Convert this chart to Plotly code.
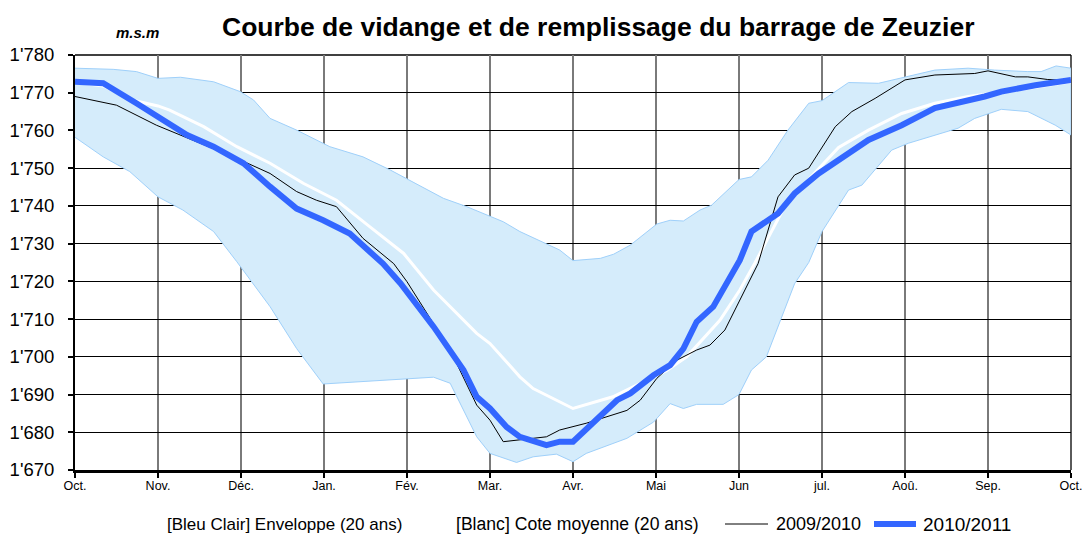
import plotly.graph_objects as go

# ---------------- data (x in months from 1 Oct) ----------------
month_labels = ["Oct.", "Nov.", "Déc.", "Jan.", "Fév.", "Mar.", "Avr.",
                "Mai", "Jun", "jul.", "Aoû.", "Sep.", "Oct."]
month_pos = list(range(13))

env_upper_x = [0, 0.46, 0.74, 1.0, 1.27, 1.67, 1.99, 2.15, 2.35, 2.67, 3.07, 3.47, 3.8,
               4.05, 4.44, 4.72, 5.16, 5.36, 5.68, 5.84, 6.0, 6.33, 6.49, 6.69, 7.01,
               7.17, 7.33, 7.53, 7.67, 8.0, 8.15, 8.35, 8.59, 8.84, 9.0, 9.32, 9.68,
               10.04, 10.36, 10.76, 11.08, 11.48, 11.64, 11.82, 12.0]
env_upper_y = [1776.5, 1776.2, 1775.6, 1773.8, 1774.1, 1772.9, 1770.3, 1768.1, 1763.2,
               1760.1, 1755.7, 1753.0, 1749.5, 1746.5, 1742.0, 1739.8, 1735.8, 1733.2,
               1730.0, 1728.3, 1725.5, 1726.1, 1727.2, 1729.6, 1735.2, 1736.2, 1736.0,
               1738.9, 1740.2, 1747.0, 1747.7, 1752.1, 1760.1, 1767.2, 1767.9, 1772.7,
               1772.5, 1774.4, 1776.0, 1776.5, 1776.0, 1775.6, 1775.6, 1777.1, 1776.5]

env_lower_x = [0, 0.34, 0.66, 1.0, 1.3, 1.67, 1.95, 2.35, 2.67, 2.99, 4.32, 4.52, 4.84,
               5.0, 5.32, 5.52, 5.8, 6.0, 6.16, 6.65, 6.97, 7.17, 7.33, 7.49, 7.81, 8.0,
               8.15, 8.33, 8.51, 8.67, 8.84, 9.0, 9.32, 9.48, 9.84, 10.04, 10.64, 10.84,
               11.16, 11.48, 11.81, 12.0]
env_lower_y = [1758.2, 1753.0, 1749.1, 1742.4, 1738.9, 1733.2, 1725.2, 1713.3, 1702.2,
               1692.8, 1694.6, 1693.0, 1678.8, 1674.4, 1672.0, 1673.5, 1674.2, 1672.2,
               1674.4, 1678.4, 1682.7, 1687.6, 1686.3, 1687.4, 1687.4, 1690.0, 1696.5,
               1700.0, 1710.2, 1719.4, 1725.0, 1733.2, 1744.2, 1745.5, 1754.8, 1756.6,
               1760.6, 1763.2, 1765.6, 1765.0, 1761.4, 1758.8]

mean_x = [0, 0.34, 0.7, 1.0, 1.14, 1.55, 1.95, 2.35, 2.75, 3.15, 3.55, 3.96, 4.32, 4.84,
          5.0, 5.36, 5.52, 6.0, 6.48, 7.13, 7.37, 7.77, 8.01, 8.19, 8.55, 8.87, 9.2,
          9.56, 9.96, 10.36, 10.76, 11.36, 12.0]
mean_y = [1772.8, 1771.8, 1768.0, 1766.5, 1765.4, 1761.0, 1755.7, 1751.3, 1746.0, 1741.5,
          1734.5, 1727.4, 1717.7, 1706.2, 1703.5, 1694.7, 1691.6, 1686.3, 1689.4, 1696.4,
          1700.0, 1709.7, 1717.7, 1724.8, 1739.8, 1747.7, 1755.5, 1760.1, 1764.5, 1767.2,
          1769.0, 1770.7, 1772.9]

y0910_x = [0, 0.5, 0.98, 1.27, 1.95, 2.35, 2.67, 2.91, 3.15, 3.47, 3.84, 4.0, 4.32, 4.52,
           4.84, 5.0, 5.16, 5.68, 5.84, 6.16, 6.65, 6.81, 7.01, 7.25, 7.49, 7.65, 7.83,
           8.01, 8.23, 8.47, 8.67, 8.84, 9.16, 9.36, 9.64, 10.0, 10.36, 10.84, 11.0,
           11.33, 11.48, 11.72, 12.0]
y0910_y = [1769.0, 1766.7, 1761.4, 1758.8, 1752.6, 1748.6, 1743.8, 1741.5, 1739.8, 1731.4,
           1724.7, 1719.9, 1708.8, 1701.8, 1687.2, 1683.2, 1677.5, 1678.8, 1680.6, 1682.4,
           1685.8, 1688.5, 1694.3, 1699.1, 1701.8, 1703.1, 1707.1, 1715.0, 1724.7, 1742.4,
           1748.2, 1750.0, 1761.0, 1765.0, 1768.5, 1773.4, 1774.7, 1775.1, 1775.8, 1774.2,
           1774.2, 1773.5, 1773.2]

y1011_x = [0, 0.34, 0.74, 1.02, 1.35, 1.67, 2.03, 2.35, 2.67, 2.99, 3.31, 3.71, 3.92, 4.32,
           4.68, 4.84, 5.0, 5.2, 5.36, 5.68, 5.84, 6.0, 6.33, 6.53, 6.69, 6.97, 7.17, 7.33,
           7.49, 7.69, 8.01, 8.15, 8.47, 8.67, 8.96, 9.16, 9.56, 9.96, 10.36, 10.96,
           11.16, 11.57, 12.0]
y1011_y = [1772.9, 1772.5, 1767.2, 1763.2, 1758.8, 1755.7, 1751.3, 1745.1, 1739.3, 1736.2,
           1732.7, 1724.7, 1719.5, 1708.0, 1696.5, 1689.4, 1686.3, 1681.4, 1678.8, 1676.6,
           1677.5, 1677.5, 1684.5, 1688.5, 1690.3, 1695.1, 1697.8, 1702.2, 1709.3, 1713.3,
           1725.6, 1733.2, 1738.0, 1743.3, 1748.6, 1751.7, 1757.5, 1761.4, 1765.9, 1769.0,
           1770.3, 1772.0, 1773.4]

legend_names = ["[Bleu Clair] Enveloppe (20 ans)", "[Blanc] Cote moyenne (20 ans)",
                "2009/2010", "2010/2011"]

# ---------------- figure ----------------
FONT = "Liberation Sans, Arial, sans-serif"
ENV_FILL = "#D5ECFB"
ENV_EDGE = "#9FD0FA"
BLUE = "#3366FF"

W, H = 1083, 536
L, R, T, B = 75, 12, 55, 66
PW, PH = W - L - R, H - T - B


def px_x(p):  # pixel -> paper x
    return (p - L) / PW


def px_y(p):  # pixel -> paper y
    return (H - B - p) / PH


fig = go.Figure()

fig.add_trace(go.Scatter(
    x=env_upper_x + env_lower_x[::-1],
    y=env_upper_y + env_lower_y[::-1],
    mode="lines", fill="toself", fillcolor=ENV_FILL,
    line=dict(color=ENV_EDGE, width=1), name=legend_names[0], hoverinfo="skip"))

fig.add_trace(go.Scatter(
    x=mean_x, y=mean_y, mode="lines", line=dict(color="white", width=3),
    name=legend_names[1]))

fig.add_trace(go.Scatter(
    x=y0910_x, y=y0910_y, mode="lines", line=dict(color="black", width=1),
    name=legend_names[2]))

fig.add_trace(go.Scatter(
    x=y1011_x, y=y1011_y, mode="lines", line=dict(color=BLUE, width=6),
    name=legend_names[3]))

# hand-placed legend (mimics the spreadsheet legend layout)
LEG_Y = px_y(524)
leg_text_left = [165, 454, 774, 921]
leg_font_size = [17, 17.6, 18, 19]
annotations = [
    dict(text="<b>Courbe de vidange et de remplissage du barrage de Zeuzier</b>",
         x=px_x(598), y=px_y(27), xref="paper", yref="paper", xanchor="center",
         yanchor="middle", showarrow=False, font=dict(size=26.5, family=FONT)),
    dict(text="<b><i>m.s.m</i></b>", x=px_x(137), y=px_y(33), xref="paper", yref="paper",
         xanchor="center", yanchor="middle", showarrow=False,
         font=dict(size=15, family=FONT)),
]
for name, left, fs in zip(legend_names, leg_text_left, leg_font_size):
    annotations.append(dict(text=name, x=px_x(left), y=LEG_Y, xref="paper", yref="paper",
                            xanchor="left", yanchor="middle", showarrow=False,
                            font=dict(size=fs, family=FONT)))

shapes = [
    dict(type="line", xref="paper", yref="paper", x0=px_x(725), x1=px_x(768),
         y0=LEG_Y, y1=LEG_Y, line=dict(color="black", width=1)),
    dict(type="line", xref="paper", yref="paper", x0=px_x(874), x1=px_x(916),
         y0=LEG_Y, y1=LEG_Y, line=dict(color=BLUE, width=6)),
    # right border (gray month line) and top line (black level line)
    dict(type="line", xref="paper", yref="paper", x0=1, x1=1, y0=0, y1=1,
         line=dict(color="#5a5a5a", width=2), layer="below"),
    dict(type="line", xref="paper", yref="paper", x0=0, x1=1, y0=1, y1=1,
         line=dict(color="black", width=1.5), layer="below"),
]

fig.update_layout(
    width=W, height=H,
    margin=dict(l=L, r=R, t=T, b=B, autoexpand=False),
    paper_bgcolor="white", plot_bgcolor="white",
    separators=".'",
    font=dict(family=FONT, color="black"),
    showlegend=False,
    annotations=annotations,
    shapes=shapes,
)

fig.update_xaxes(
    range=[0, 12], tickmode="array", tickvals=month_pos, ticktext=month_labels,
    tickfont=dict(size=12.5, family=FONT), ticks="outside", ticklen=5, tickwidth=2,
    tickcolor="black", showgrid=True, gridcolor="#7a7a7a", gridwidth=1.5,
    showline=True, linecolor="black", linewidth=3, zeroline=False, fixedrange=True,
    automargin=False, ticklabelstandoff=-3)

fig.update_yaxes(
    range=[1670, 1780], tick0=1670, dtick=10, tickformat=",d",
    tickfont=dict(size=18.5, family=FONT), ticks="outside", ticklen=5, tickwidth=2,
    tickcolor="black", showgrid=True, gridcolor="black", gridwidth=1,
    showline=True, linecolor="black", linewidth=2, zeroline=False, fixedrange=True,
    automargin=False, ticklabelstandoff=10)

fig.write_html("out.html", config={"displayModeBar": False},
               post_script="document.body.style.margin='0';")
